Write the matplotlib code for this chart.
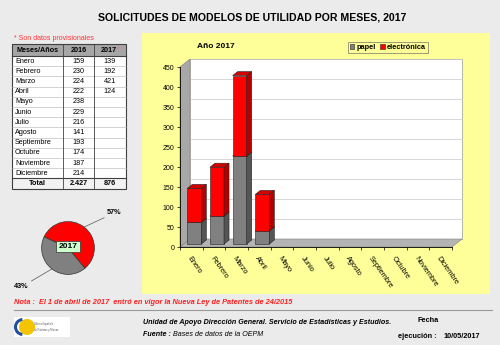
import numpy as np
import matplotlib
matplotlib.use("Agg")
import matplotlib.pyplot as plt
import matplotlib.transforms as mtrans
from matplotlib.patches import Polygon, Rectangle, Circle, Wedge

plt.rcParams['font.family'] = ['Liberation Sans', 'DejaVu Sans']

# data
meses = ["Enero", "Febrero", "Marzo", "Abril", "Mayo", "Junio", "Julio",
         "Agosto", "Septiembre", "Octubre", "Noviembre", "Diciembre"]
v2016 = [159, 230, 224, 222, 238, 229, 216, 141, 193, 174, 187, 214]
v2017 = [139, 192, 421, 124]
total2016 = "2.427"
total2017 = "876"
papel = [54, 70, 220, 33]
electronica = [85, 122, 201, 91]
yticks = list(range(0, 451, 50))

BG = "#ebebeb"
YEL = "#ffff99"
GRAY = "#808080"
RED = "#ff0000"

W, H = 500, 345
fig = plt.figure(figsize=(5, 3.45), dpi=100, facecolor=BG)

def fpos(x0, y0, x1, y1):
    # pixel box (top-left origin) -> figure fraction
    return [x0 / W, 1 - y1 / H, (x1 - x0) / W, (y1 - y0) / H]

# background axes in pixel coords
bg = fig.add_axes([0, 0, 1, 1])
bg.set_xlim(0, W)
bg.set_ylim(H, 0)
bg.axis("off")

bg.text(252, 17, "SOLICITUDES DE MODELOS DE UTILIDAD POR MESES, 2017",
        ha="center", va="center", fontsize=7.6, fontweight="bold")

# yellow panel
bg.add_patch(Rectangle((142, 33), 348, 261, fc=YEL, ec="none"))

# ---- table ----
bg.text(14, 39, "* Son datos provisionales", color="#ff3333", fontsize=5, va="center")
tx0, c1, c2, tx1 = 12, 63, 94, 126
hy0, hy1 = 44, 56
rh = 10.2
bg.add_patch(Rectangle((tx0, hy0), tx1 - tx0, hy1 - hy0, fc="#a6a6a6", ec="none"))
bg.text((tx0 + c1) / 2, (hy0 + hy1) / 2, "Meses/Años", ha="center", va="center",
        fontsize=5.2, fontweight="bold")
bg.text((c1 + c2) / 2, (hy0 + hy1) / 2, "2016", ha="center", va="center",
        fontsize=5.2, fontweight="bold")
bg.text((c2 + tx1) / 2 - 1, (hy0 + hy1) / 2, "2017", ha="center", va="center",
        fontsize=5.2, fontweight="bold")
bg.text((c2 + tx1) / 2 + 8, (hy0 + hy1) / 2 - 1, "*", ha="center", va="center",
        fontsize=4.5, color="#ff6666")
ry = hy1
bg.add_patch(Rectangle((tx0, hy1), tx1 - tx0, rh * 12, fc="white", ec="none"))
for i, m in enumerate(meses):
    yc = ry + rh * (i + 0.5)
    bg.text(tx0 + 3, yc, m, va="center", fontsize=5.2)
    bg.text((c1 + c2) / 2, yc, str(v2016[i]), ha="center", va="center", fontsize=5.2)
    if i < len(v2017):
        bg.text((c2 + tx1) / 2, yc, str(v2017[i]), ha="center", va="center", fontsize=5.2)
    bg.plot([tx0, tx1], [ry + rh * (i + 1)] * 2, color="#b0b0b0", lw=0.4)
ty0 = ry + rh * 12
ty1 = ty0 + 11
bg.add_patch(Rectangle((tx0, ty0), tx1 - tx0, ty1 - ty0, fc="#f2f2f2", ec="none"))
bg.text((tx0 + c1) / 2, (ty0 + ty1) / 2, "Total", ha="center", va="center",
        fontsize=5.2, fontweight="bold")
bg.text((c1 + c2) / 2, (ty0 + ty1) / 2, total2016, ha="center", va="center",
        fontsize=5.2, fontweight="bold")
bg.text((c2 + tx1) / 2, (ty0 + ty1) / 2, total2017, ha="center", va="center",
        fontsize=5.2, fontweight="bold")
bg.add_patch(Rectangle((tx0, hy0), tx1 - tx0, ty1 - hy0, fc="none", ec="#404040", lw=0.8))
bg.plot([tx0, tx1], [hy1, hy1], color="#404040", lw=0.8)
bg.plot([tx0, tx1], [ty0, ty0], color="#404040", lw=0.8)
bg.plot([c1, c1], [hy0, ty1], color="#404040", lw=0.6)
bg.plot([c2, c2], [hy0, ty1], color="#404040", lw=0.6)

# ---- pie ----
pax = fig.add_axes(fpos(35, 215, 101, 281))
tot_p, tot_e = sum(papel), sum(electronica)
wedges, _ = pax.pie([tot_e, tot_p], colors=[RED, GRAY], startangle=155,
                    counterclock=False, wedgeprops=dict(ec="#333333", lw=0.5))
pax.set_aspect("equal")
shares = [tot_e / (tot_e + tot_p), tot_p / (tot_e + tot_p)]
lab_pos = [(107, 213), (14, 287)]
for w, s, (lx, ly) in zip(wedges, shares, lab_pos):
    ang = np.deg2rad((w.theta1 + w.theta2) / 2)
    xy = (np.cos(ang), np.sin(ang))
    pax.annotate(f"{s:.0%}", xy=xy, xycoords="data",
                 xytext=(lx / W, 1 - ly / H), textcoords="figure fraction",
                 fontsize=5.2, fontweight="bold", va="center", ha="left",
                 arrowprops=dict(arrowstyle="-", color="#555555", lw=0.5,
                                 shrinkA=0, shrinkB=0))
pax.text(0, 0.05, "2017", ha="center", va="center", fontsize=6, fontweight="bold",
         bbox=dict(boxstyle="square,pad=0.25", fc="#ccffcc", ec="#333333", lw=0.5))

# ---- bar chart (pseudo 3D) ----
ax = fig.add_axes(fpos(180, 67, 452, 247))
ax.set_xlim(-0.5, 11.5)
ax.set_ylim(0, 450)
ax.patch.set_alpha(0)
for s in ["top", "right"]:
    ax.spines[s].set_visible(False)
ax.spines["left"].set_linewidth(0.6)
ax.spines["bottom"].set_linewidth(0.6)
ax.set_yticks(yticks)
ax.set_yticklabels([str(t) for t in yticks], fontsize=5)
ax.tick_params(axis="y", length=2, width=0.5, pad=2)
ax.set_xticks(range(12))
ax.set_xticklabels(meses, rotation=-55, ha="left", va="top",
                   rotation_mode="anchor", fontsize=5.3)
ax.tick_params(axis="x", length=0, pad=6)
ax.set_xticks(np.arange(-0.5, 12, 1), minor=True)
ax.tick_params(axis="x", which="minor", length=2, width=0.5)

fig.canvas.draw()
dd = np.array([10, 8])  # depth of walls in px

def dsp(x, y):
    return ax.transData.transform((x, y))

idt = mtrans.IdentityTransform()
f00 = dsp(-0.5, 0); f10 = dsp(11.5, 0); f01 = dsp(-0.5, 450); f11 = dsp(11.5, 450)
back = Polygon([f00 + dd, f10 + dd, f11 + dd, f01 + dd],
               closed=True, fc="white", ec="#999999", lw=0.5, transform=idt,
               zorder=0, clip_on=False)
ax.add_patch(back)
for t in yticks[1:]:
    a = dsp(-0.5, t) + dd; b = dsp(11.5, t) + dd
    ax.add_line(plt.Line2D([a[0], b[0]], [a[1], b[1]], color="#c8c8c8", lw=0.5,
                           transform=idt, zorder=0.5, clip_on=False))
floor = Polygon([f00, f10, f10 + dd, f00 + dd], closed=True, fc="#b4b4b4",
                ec="#808080", lw=0.4, transform=idt, zorder=0.6, clip_on=False)
ax.add_patch(floor)
lwall = Polygon([f00, f00 + dd, f01 + dd, f01], closed=True, fc="#a8a8a8",
                ec="#808080", lw=0.4, transform=idt, zorder=0.6, clip_on=False)
ax.add_patch(lwall)

shift = mtrans.ScaledTranslation(3 / 100, 3 / 100, fig.dpi_scale_trans)
bw = 0.62
bd = (5, 4)
x = np.arange(len(papel))
series = [(papel, [0] * len(papel), GRAY, "#555555", "#9a9a9a", "papel"),
          (electronica, papel, RED, "#b30000", "#d40000", "electrónica")]
handles = []
for vals, bottoms, fc, sc, tc, lab in series:
    bars = ax.bar(x, vals, bottom=bottoms, width=bw, color=fc, ec="#222222",
                  lw=0.4, transform=ax.transData + shift, zorder=2, label=lab,
                  clip_on=False)
    handles.append(bars)
    for r in bars:
        bb = r.get_window_extent()
        x0, y0, x1, y1 = bb.x0, bb.y0, bb.x1, bb.y1
        side = Polygon([(x1, y0), (x1 + bd[0], y0 + bd[1]), (x1 + bd[0], y1 + bd[1]), (x1, y1)],
                       closed=True, fc=sc, ec="#222222", lw=0.4, transform=idt,
                       zorder=2, clip_on=False)
        top = Polygon([(x0, y1), (x1, y1), (x1 + bd[0], y1 + bd[1]), (x0 + bd[0], y1 + bd[1])],
                      closed=True, fc=tc, ec="#222222", lw=0.4, transform=idt,
                      zorder=2, clip_on=False)
        ax.add_patch(side)
        ax.add_patch(top)

bg.text(197, 47, "Año 2017", fontsize=6, fontweight="bold", va="center")
leg = fig.legend(handles=handles, labels=["papel", "electrónica"], loc="center",
                 bbox_to_anchor=((346 + 430) / 2 / W, 1 - 47.5 / H), ncol=2,
                 fontsize=5.3, frameon=True, fancybox=False, handlelength=0.6,
                 handleheight=0.6, handletextpad=0.3, columnspacing=0.6,
                 borderpad=0.3, prop=dict(weight="bold", size=5.3))
leg.get_frame().set_facecolor(YEL)
leg.get_frame().set_edgecolor("#555555")
leg.get_frame().set_linewidth(0.5)

# ---- footer ----
bg.text(14, 302, "Nota :  El 1 de abril de 2017  entró en vigor la Nueva Ley de Patentes de 24/2015",
        color="#ff2020", fontsize=5.3, fontweight="bold", style="italic", va="center")
bg.plot([14, 492], [310, 310], color="#999999", lw=0.8)
bg.add_patch(Rectangle((14, 317), 56, 20, fc="white", ec="none"))
bg.add_patch(Circle((27, 327), 8, fc="#f5c400", ec="none"))
bg.add_patch(Wedge((23, 327), 9, 95, 265, width=3, fc="#1f4e9c", ec="none"))
bg.text(34, 327, "Oficina Española\nde Patentes y Marcas", fontsize=1.8,
        color="#555555", va="center", linespacing=1.6)
bg.text(143, 323, "Unidad de Apoyo Dirección General. Servicio de Estadísticas y Estudios.",
        fontsize=5.1, fontweight="bold", style="italic", va="center")
bg.text(143, 334, "Fuente :", fontsize=5.1, fontweight="bold", style="italic", va="center")
bg.text(173, 334, "Bases de datos de la OEPM", fontsize=5.1, style="italic", va="center")
bg.text(417, 320, "Fecha", fontsize=5.3, fontweight="bold", va="center")
bg.text(398, 336, "ejecución :", fontsize=5.3, fontweight="bold", va="center")
bg.text(443, 336, "10/05/2017", fontsize=5.3, fontweight="bold", va="center")

fig.savefig("out.png", dpi=100, facecolor=BG)
